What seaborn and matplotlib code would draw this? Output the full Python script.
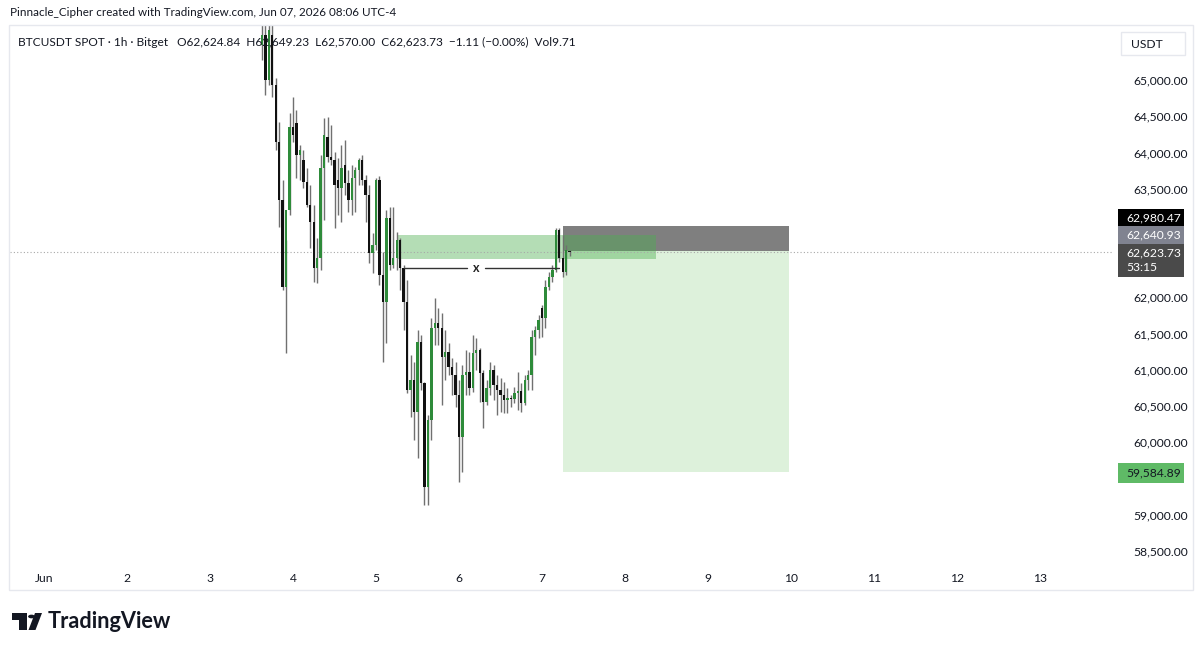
import numpy as np
import pandas as pd
import matplotlib
matplotlib.use("Agg")
import matplotlib.pyplot as plt
import seaborn as sns
from matplotlib.patches import Rectangle, Circle, Polygon

# ---------------- data (hourly BTCUSDT candles) ----------------
start_time = "2026-06-03 15:00"
opens = [65480, 65620, 65000, 65620, 64930, 64140, 63340, 62140, 63210, 64350,
         64410, 63970, 63900, 63590, 63280, 63040, 62410, 62540, 63790, 64210,
         63940, 63900, 63620, 63510, 63830, 63580, 63340, 63650, 63760, 63900,
         63620, 63410, 62610, 62720, 63620, 62310, 61940, 63100, 62450, 62540,
         62790, 62410, 61940, 60720, 60860, 60420, 61380, 60820, 59380, 60310,
         61580, 61650, 61580, 61180, 61250, 61040, 60930, 60650, 60070, 60930,
         60970, 60750, 61230, 61270, 60960, 60560, 60750, 61000, 60790, 60720,
         60650, 60580, 60610, 60600, 60680, 60710, 60540, 60860, 60930, 61450,
         61550, 61850, 61720, 62140, 62280, 62380, 62930, 62540, 62350, 62624.84]
highs = [65760, 65760, 65760, 65760, 65030, 64420, 63620, 62790, 64550, 64770,
         64590, 64100, 64030, 63790, 63550, 63280, 62820, 63970, 64480, 64490,
         64380, 64010, 63920, 64100, 64170, 63760, 63830, 63800, 63920, 63970,
         63690, 63550, 62890, 63650, 63680, 62630, 63210, 63250, 63250, 62900,
         62820, 62450, 62240, 61210, 61110, 61550, 61480, 60830, 60380, 61720,
         61990, 61850, 61790, 61550, 61370, 61160, 61110, 60860, 61070, 61270,
         61250, 61480, 61440, 61300, 61000, 60860, 61110, 61070, 60930, 60890,
         60830, 60750, 60650, 60760, 60970, 60820, 60930, 61000, 61550, 61610,
         61760, 61900, 62240, 62350, 62450, 62960, 62960, 62860, 62720, 62649.23]
lows = [65280, 64790, 64930, 64770, 64030, 62970, 62100, 61230, 63140, 64140,
        63650, 63620, 63510, 63250, 62680, 62210, 62200, 62380, 63070, 63870,
        63830, 62960, 63140, 63040, 63410, 63180, 63140, 63180, 63550, 63550,
        63040, 62480, 62340, 62650, 62170, 61110, 61370, 62380, 62410, 62380,
        62100, 61550, 60680, 60350, 60030, 59780, 60720, 59140, 59140, 60030,
        61340, 61340, 60520, 60860, 60930, 60650, 60490, 59450, 59590, 60650,
        60650, 60690, 61000, 60560, 60200, 60520, 60650, 60580, 60380, 60420,
        60410, 60410, 60490, 60540, 60450, 60420, 60520, 60720, 60720, 61210,
        61440, 61450, 61580, 62100, 62210, 62350, 62490, 62280, 62310, 62570.00]
closes = [65620, 65000, 65690, 64930, 64140, 63340, 62140, 63210, 64350, 64240,
          63970, 64030, 63590, 63280, 63040, 62410, 62540, 63790, 64240, 63940,
          63900, 63550, 63510, 63790, 63580, 63340, 63650, 63760, 63900, 63620,
          63410, 62610, 62720, 63620, 62310, 61940, 63100, 62450, 62540, 62790,
          62410, 61940, 60720, 60860, 60420, 61380, 60820, 59380, 60310, 61580,
          61650, 61580, 61180, 61250, 61040, 60930, 60650, 60070, 60930, 60970,
          60750, 61230, 61270, 60960, 60560, 60750, 61000, 60790, 60720, 60650,
          60580, 60610, 60600, 60680, 60710, 60540, 60860, 60930, 61450, 61550,
          61690, 61720, 62140, 62280, 62380, 62930, 62540, 62350, 62650, 62623.73]

zone_start, zone_end = "2026-06-05 06:00", "2026-06-08 09:00"
zone_top, zone_bottom = 62860, 62530
pos_start, pos_end = "2026-06-07 06:00", "2026-06-09 23:30"
stop_price, entry_price, target_price = 62980.47, 62640.93, 59584.89
last_price = 62623.73
sweep_start, sweep_end = "2026-06-05 08:00", "2026-06-07 05:00"
sweep_level = 62405

day_ticks = ["2026-06-%02d" % d for d in range(1, 14)]
day_labels = ["Jun", "2", "3", "4", "5", "6", "7", "8", "9", "10", "11", "12", "13"]
price_ticks = [58500, 59000, 60000, 60500, 61000, 61500, 62000, 63500, 64000, 64500, 65000]

header = "Pinnacle_Cipher created with TradingView.com, Jun 07, 2026 08:06 UTC-4"
legend_text = ("BTCUSDT SPOT \u00b7 1h \u00b7 Bitget   O62,624.84  H62,649.23  L62,570.00  "
               "C62,623.73  \u22121.11 (\u22120.00%)  Vol9.71")

# ---------------- style ----------------
sns.set_theme(style="white")
plt.rcParams["font.family"] = ["Lato", "DejaVu Sans"]
TXT = "#131722"
FS = 8.7

W, H = 1200, 651
fig = plt.figure(figsize=(12, 6.51), dpi=100)
fig.patch.set_facecolor("white")

PL, PR, PT, PB = 10, 1112, 25, 565
ax = fig.add_axes([PL / W, 1 - PB / H, (PR - PL) / W, (PB - PT) / H])
ax.set_facecolor("white")

t0 = pd.Timestamp("2026-06-01 00:00")
def hrs(ts):
    return (pd.to_datetime(ts) - t0) / pd.Timedelta(hours=1)

times = pd.date_range(start_time, periods=len(opens), freq="h")
df = pd.DataFrame({"x": np.asarray(hrs(times), dtype=float), "open": opens, "high": highs,
                   "low": lows, "close": closes})
df["up"] = df["close"] >= df["open"]

# x: pane pixels 10..1112 with Jun 1 at px 44 and 83 px per day
px_per_h = 83 / 24.0
ax.set_xlim((PL - 44) / px_per_h, (PR - 44) / px_per_h)
ax.set_ylim(58307, 65759)

# position tool boxes
ps, pe = hrs(pos_start), hrs(pos_end)
ax.add_patch(Rectangle((ps, target_price), pe - ps, entry_price - target_price,
                       facecolor="#ddf1db", edgecolor="none", zorder=1))
ax.add_patch(Rectangle((ps, entry_price), pe - ps, stop_price - entry_price,
                       facecolor="#7f7f7f", edgecolor="none", zorder=1))
# zone
zs, ze = hrs(zone_start), hrs(zone_end)
ax.add_patch(Rectangle((zs, zone_bottom), ze - zs, zone_top - zone_bottom,
                       facecolor="#4caf50", alpha=0.42, edgecolor="none", zorder=2))

# last price dotted line
sns.lineplot(x=[ax.get_xlim()[0], ax.get_xlim()[1]], y=[last_price, last_price], ax=ax,
             color="#a8a8a8", lw=0.8, linestyle=(0, (1, 2)), zorder=2)

# candles
ax.vlines(df["x"], df["low"], df["high"], color="#707070", lw=1.0, zorder=3)
body_lo = np.minimum(df["open"], df["close"])
body_h = np.maximum(np.abs(df["close"] - df["open"]), 14)
colors = np.where(df["up"], "#2e8b3a", "#111111")
ax.bar(df["x"], body_h, bottom=body_lo, width=0.68, color=colors, linewidth=0, zorder=4)

# sweep line with x
ss, se = hrs(sweep_start), hrs(sweep_end)
mid = (ss + se) / 2 - 1.5
gap = 2.6
ax.plot([ss, mid - gap], [sweep_level, sweep_level], color="#333333", lw=1.0, zorder=5)
ax.plot([mid + gap, se], [sweep_level, sweep_level], color="#333333", lw=1.0, zorder=5)
ax.text(mid, sweep_level, "x", ha="center", va="center", fontsize=9, fontweight="bold",
        color="#222222", zorder=6)

# axes cosmetics
for s in ax.spines.values():
    s.set_visible(False)
ax.set_xticks(hrs(day_ticks))
ax.set_xticklabels(day_labels, fontsize=FS, color=TXT)
ax.tick_params(axis="x", length=0, pad=6)
ax.yaxis.tick_right()
ax.set_yticks(price_ticks)
ax.set_yticklabels([f"{p:,.2f}" for p in price_ticks], fontsize=FS, color=TXT, ha="right")
ax.tick_params(axis="y", length=0, pad=(1188 - PR) * 0.72)
ax.grid(False)

# frame around whole chart
fig.patches.append(Rectangle((9 / W, 1 - 590 / H), (1193 - 9) / W, (590 - 25) / H,
                             transform=fig.transFigure, fill=False, edgecolor="#e6e8ee", lw=1.0))

# header texts
fig.text(10 / W, 1 - 12 / H, header, fontsize=8.4, color=TXT, va="center", ha="left")
fig.text(18 / W, 1 - 42 / H, legend_text, fontsize=8.6, color=TXT, va="center", ha="left", zorder=10)

# USDT box
fig.patches.append(Rectangle((1121 / W, 1 - 55 / H), 64 / W, 23 / H, transform=fig.transFigure,
                             facecolor="white", edgecolor="#e6e8ee", lw=1.0))
fig.text(1131 / W, 1 - 44 / H, "USDT", fontsize=FS, color=TXT, va="center", ha="left")

# price tags
def tag(y0, y1, face, lines, tcolor):
    fig.patches.append(Rectangle((1118 / W, 1 - y1 / H), 66 / W, (y1 - y0) / H,
                                 transform=fig.transFigure, facecolor=face, edgecolor="none"))
    for yy, s in lines:
        fig.text(1126 / W, 1 - yy / H, s, fontsize=FS, color=tcolor, va="center", ha="left")

tag(209, 226, "#000000", [(217.5, f"{stop_price:,.2f}")], "white")
tag(226, 244, "#808390", [(235, f"{entry_price:,.2f}")], "white")
tag(244, 277, "#4a4a4a", [(252.5, f"{last_price:,.2f}"), (267.5, "53:15")], "white")
tag(463, 483, "#5fba66", [(473, f"{target_price:,.2f}")], TXT)

# TradingView logo
def fx(px):
    return px / W
def fy(py):
    return 1 - py / H
logo_color = "#131722"
fig.patches.append(Rectangle((fx(12), fy(620)), 15 / W, 7 / H, transform=fig.transFigure,
                             facecolor=logo_color, edgecolor="none"))
fig.patches.append(Rectangle((fx(19), fy(630)), 8 / W, 17 / H, transform=fig.transFigure,
                             facecolor=logo_color, edgecolor="none"))
fig.patches.append(Circle((fx(31.5), fy(616.5)), 3.4 / W, transform=fig.transFigure,
                          facecolor=logo_color, edgecolor="none"))
fig.patches.append(Polygon([(fx(35), fy(613)), (fx(42), fy(613)), (fx(35.5), fy(630)),
                            (fx(28.5), fy(630))], closed=True, transform=fig.transFigure,
                           facecolor=logo_color, edgecolor="none"))
fig.text(48 / W, 1 - 621 / H, "TradingView", fontsize=15.7, fontweight="bold",
         color=logo_color, va="center", ha="left")

fig.savefig("out.png", dpi=100, facecolor="white")
